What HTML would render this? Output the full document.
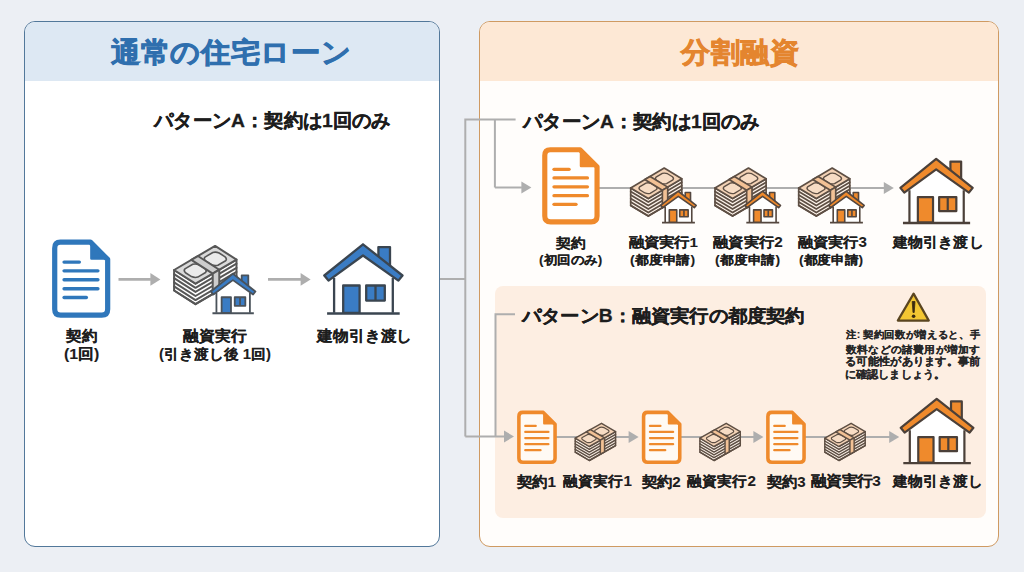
<!DOCTYPE html>
<html lang="ja"><head><meta charset="utf-8">
<style>
*{margin:0;padding:0;box-sizing:border-box;}
html,body{width:1024px;height:572px;overflow:hidden;}
body{background:#eceff4;font-family:"Liberation Sans",sans-serif;position:relative;}
.panel{position:absolute;border-radius:11px;overflow:hidden;}
.lp{left:24px;top:21px;width:416px;height:526px;border:1.7px solid #52789a;background:#ffffff;}
.lp .hd{position:absolute;left:0;top:0;right:0;height:59px;background:#dde8f3;}
.rp{left:479px;top:21px;width:520px;height:526px;border:1.8px solid #cf9a62;background:#fffdfb;}
.rp .hd{position:absolute;left:0;top:0;right:0;height:59px;background:#fde8d5;}
.pb{position:absolute;left:495px;top:286px;width:491px;height:231.5px;border-radius:8px;background:#fdeee2;}
svg{position:absolute;left:0;top:0;}
.t{position:absolute;white-space:nowrap;font-weight:bold;line-height:1;transform-origin:0 0;}
.note{position:absolute;left:846px;top:329px;font-size:11px;line-height:13.3px;font-weight:bold;color:#262626;white-space:nowrap;-webkit-text-stroke:0.3px #262626;}
</style></head><body>
<div class="panel lp"><div class="hd"></div></div>
<div class="panel rp"><div class="hd"></div></div>
<div class="pb"></div>
<svg width="1024" height="572" viewBox="0 0 1024 572">
<g stroke="#aeaeae" stroke-width="2" fill="none"><polyline points="440,279 465.3,279"/><polyline points="515.6,119.6 465.3,119.6 465.3,436.5"/><polyline points="494.9,119.6 494.9,187.5"/><polyline points="515,314.3 495.5,314.3 495.5,436.5"/></g>
<line x1="494.9" y1="187.5" x2="521.9" y2="187.5" stroke="#aeaeae" stroke-width="2"/><polygon points="521.4,181.5 531.4,187.5 521.4,193.5" fill="#aeaeae"/>
<line x1="465.3" y1="436.5" x2="504.5" y2="436.5" stroke="#aeaeae" stroke-width="2"/><polygon points="504,430.5 514,436.5 504,442.5" fill="#aeaeae"/>
<line x1="118.5" y1="279.4" x2="150.9" y2="279.4" stroke="#aeaeae" stroke-width="2.6"/><polygon points="150.4,273.09999999999997 160.4,279.4 150.4,285.7" fill="#aeaeae"/>
<line x1="268" y1="279.4" x2="301.1" y2="279.4" stroke="#aeaeae" stroke-width="2.6"/><polygon points="300.6,273.09999999999997 310.6,279.4 300.6,285.7" fill="#aeaeae"/>
<line x1="598" y1="188" x2="885" y2="188" stroke="#aeaeae" stroke-width="2"/>
<line x1="860" y1="188" x2="884.3" y2="188" stroke="#aeaeae" stroke-width="2"/><polygon points="883.8,182.0 893.8,188 883.8,194.0" fill="#aeaeae"/>
<line x1="556" y1="437" x2="630" y2="437" stroke="#aeaeae" stroke-width="2"/>
<line x1="600" y1="437" x2="629.1" y2="437" stroke="#aeaeae" stroke-width="2"/><polygon points="628.6,431.0 638.6,437 628.6,443.0" fill="#aeaeae"/>
<line x1="681" y1="437" x2="755" y2="437" stroke="#aeaeae" stroke-width="2"/>
<line x1="730" y1="437" x2="753.9" y2="437" stroke="#aeaeae" stroke-width="2"/><polygon points="753.4,431.0 763.4,437 753.4,443.0" fill="#aeaeae"/>
<line x1="805" y1="437" x2="890" y2="437" stroke="#aeaeae" stroke-width="2"/>
<line x1="860" y1="437" x2="889.7" y2="437" stroke="#aeaeae" stroke-width="2"/><polygon points="889.2,431.0 899.2,437 889.2,443.0" fill="#aeaeae"/>
<g transform="translate(51.8,239.3) scale(1.003)"><path d="M8.5,2.9 H38.5 L55.7,20.1 V69.8 Q55.7,75.7 49.8,75.7 H8.8 Q2.9,75.7 2.9,69.8 V8.8 Q2.9,2.9 8.5,2.9 Z" fill="#ffffff" stroke="#2f77bb" stroke-width="5.2" stroke-linejoin="round"/><path d="M39.5,4.5 V19.2 H54.2 Z" fill="#2f77bb" stroke="#2f77bb" stroke-width="2.5" stroke-linejoin="round"/><line x1="12.2" y1="22.7" x2="27.5" y2="22.7" stroke="#2f77bb" stroke-width="3.3" stroke-linecap="round"/><line x1="12.2" y1="31.4" x2="46" y2="31.4" stroke="#2f77bb" stroke-width="3.3" stroke-linecap="round"/><line x1="12.2" y1="40.3" x2="46" y2="40.3" stroke="#2f77bb" stroke-width="3.3" stroke-linecap="round"/><line x1="12.2" y1="49.3" x2="46" y2="49.3" stroke="#2f77bb" stroke-width="3.3" stroke-linecap="round"/><line x1="12.2" y1="58.0" x2="34.5" y2="58.0" stroke="#2f77bb" stroke-width="3.3" stroke-linecap="round"/></g>
<g stroke="#575757" stroke-width="2.0" stroke-linejoin="round" stroke-linecap="round"><polygon points="174.10,270.00 195.50,283.70 236.50,259.60 236.50,280.10 195.50,304.20 174.10,290.50" fill="#ffffff"/><polyline points="174.10,274.10 195.50,287.80 236.50,263.70" fill="none"/><polyline points="174.10,278.20 195.50,291.90 236.50,267.80" fill="none"/><polyline points="174.10,282.30 195.50,296.00 236.50,271.90" fill="none"/><polyline points="174.10,286.40 195.50,300.10 236.50,276.00" fill="none"/><polyline points="174.10,290.50 195.50,304.20 236.50,280.10" fill="none"/><polygon points="174.10,270.00 215.10,245.90 236.50,259.60 195.50,283.70" fill="#dadada"/><path d="M184.94,268.88 L192.73,264.31 Q195.71,263.39 199.02,264.81 L205.02,268.65 Q207.18,270.74 205.57,272.53 L197.78,277.10 Q194.80,278.02 191.49,276.60 L185.49,272.76 Q183.33,270.67 184.94,268.88 Z" fill="#ebebeb" stroke-width="1.6"/><path d="M205.03,257.08 L212.82,252.50 Q215.80,251.58 219.11,253.00 L225.11,256.84 Q227.27,258.93 225.66,260.72 L217.87,265.30 Q214.89,266.21 211.58,264.79 L205.58,260.95 Q203.42,258.86 205.03,257.08 Z" fill="#ebebeb" stroke-width="1.6"/><polygon points="191.32,259.88 197.88,256.02 219.28,269.72 212.72,273.58" fill="#cdcdcd"/><polygon points="212.72,273.58 219.28,269.72 219.28,290.22 212.72,294.08" fill="#cdcdcd"/></g>
<g transform="translate(208.4,271.3) scale(0.57)" stroke="#4a525a" stroke-width="3.16" stroke-linejoin="round"><rect x="58.4" y="7.1" width="11.6" height="20" fill="#3a7cc4"/><path d="M14.1,38 L43,15.5 L72.8,38 V72.8 H14.1 Z" fill="#ffffff" stroke="none"/><path d="M14.1,38 V72.8 M72.8,38 V72.8" fill="none"/><path d="M4.3,35.5 L43,4.3 L82.5,35.5 L78.4,40.6 L43,15.5 L8.5,40.6 Z" fill="#3a7cc4"/><line x1="7.1" y1="73.5" x2="79.7" y2="73.5" stroke-width="3.47"/><rect x="23.2" y="45.5" width="16.4" height="27.3" fill="#3a7cc4"/><rect x="46.2" y="45.5" width="18.6" height="15.1" fill="#3a7cc4"/><line x1="55.5" y1="45.5" x2="55.5" y2="60.6"/></g>
<g transform="translate(320,240) scale(1.0)" stroke="#3a4550" stroke-width="2.30" stroke-linejoin="round"><rect x="58.4" y="7.1" width="11.6" height="20" fill="#3a7cc4"/><path d="M14.1,38 L43,15.5 L72.8,38 V72.8 H14.1 Z" fill="#ffffff" stroke="none"/><path d="M14.1,38 V72.8 M72.8,38 V72.8" fill="none"/><path d="M4.3,35.5 L43,4.3 L82.5,35.5 L78.4,40.6 L43,15.5 L8.5,40.6 Z" fill="#3a7cc4"/><line x1="7.1" y1="73.5" x2="79.7" y2="73.5" stroke-width="2.53"/><rect x="23.2" y="45.5" width="16.4" height="27.3" fill="#3a7cc4"/><rect x="46.2" y="45.5" width="18.6" height="15.1" fill="#3a7cc4"/><line x1="55.5" y1="45.5" x2="55.5" y2="60.6"/></g>
<g transform="translate(541.9,146.9) scale(0.99)"><path d="M8.5,2.9 H38.5 L55.7,20.1 V69.8 Q55.7,75.7 49.8,75.7 H8.8 Q2.9,75.7 2.9,69.8 V8.8 Q2.9,2.9 8.5,2.9 Z" fill="#ffffff" stroke="#ef8a2c" stroke-width="5.2" stroke-linejoin="round"/><path d="M39.5,4.5 V19.2 H54.2 Z" fill="#ef8a2c" stroke="#ef8a2c" stroke-width="2.5" stroke-linejoin="round"/><line x1="12.2" y1="22.7" x2="27.5" y2="22.7" stroke="#ef8a2c" stroke-width="3.3" stroke-linecap="round"/><line x1="12.2" y1="31.4" x2="46" y2="31.4" stroke="#ef8a2c" stroke-width="3.3" stroke-linecap="round"/><line x1="12.2" y1="40.3" x2="46" y2="40.3" stroke="#ef8a2c" stroke-width="3.3" stroke-linecap="round"/><line x1="12.2" y1="49.3" x2="46" y2="49.3" stroke="#ef8a2c" stroke-width="3.3" stroke-linecap="round"/><line x1="12.2" y1="58.0" x2="34.5" y2="58.0" stroke="#ef8a2c" stroke-width="3.3" stroke-linecap="round"/></g>
<g stroke="#5e4f44" stroke-width="1.7" stroke-linejoin="round" stroke-linecap="round"><polygon points="630.70,187.90 648.30,198.60 681.80,178.80 681.80,196.30 648.30,216.10 630.70,205.40" fill="#fdf3ea"/><polyline points="630.70,191.40 648.30,202.10 681.80,182.30" fill="none"/><polyline points="630.70,194.90 648.30,205.60 681.80,185.80" fill="none"/><polyline points="630.70,198.40 648.30,209.10 681.80,189.30" fill="none"/><polyline points="630.70,201.90 648.30,212.60 681.80,192.80" fill="none"/><polyline points="630.70,205.40 648.30,216.10 681.80,196.30" fill="none"/><polygon points="630.70,187.90 664.20,168.10 681.80,178.80 648.30,198.60" fill="#f4d3b6"/><path d="M639.58,186.87 L645.95,183.11 Q648.38,182.34 651.11,183.44 L656.03,186.43 Q657.82,188.08 656.50,189.53 L650.14,193.29 Q647.70,194.06 644.98,192.97 L640.05,189.97 Q638.27,188.32 639.58,186.87 Z" fill="#f7dcc4" stroke-width="1.36"/><path d="M656.00,177.17 L662.36,173.41 Q664.80,172.64 667.52,173.73 L672.45,176.73 Q674.23,178.38 672.92,179.83 L666.55,183.59 Q664.12,184.36 661.39,183.26 L656.47,180.27 Q654.68,178.62 656.00,177.17 Z" fill="#f7dcc4" stroke-width="1.36"/><polygon points="644.77,179.58 650.13,176.42 667.73,187.12 662.37,190.28" fill="#f2c195"/><polygon points="662.37,190.28 667.73,187.12 667.73,204.62 662.37,207.78" fill="#f2c195"/></g>
<g transform="translate(658.8,189.3) scale(0.453)" stroke="#54473f" stroke-width="3.53" stroke-linejoin="round"><rect x="58.4" y="7.1" width="11.6" height="20" fill="#ef8a2c"/><path d="M14.1,38 L43,15.5 L72.8,38 V72.8 H14.1 Z" fill="#ffffff" stroke="none"/><path d="M14.1,38 V72.8 M72.8,38 V72.8" fill="none"/><path d="M4.3,35.5 L43,4.3 L82.5,35.5 L78.4,40.6 L43,15.5 L8.5,40.6 Z" fill="#ef8a2c"/><line x1="7.1" y1="73.5" x2="79.7" y2="73.5" stroke-width="3.89"/><rect x="23.2" y="45.5" width="16.4" height="27.3" fill="#ef8a2c"/><rect x="46.2" y="45.5" width="18.6" height="15.1" fill="#ef8a2c"/><line x1="55.5" y1="45.5" x2="55.5" y2="60.6"/></g>
<g stroke="#5e4f44" stroke-width="1.7" stroke-linejoin="round" stroke-linecap="round"><polygon points="715.00,187.90 732.60,198.60 766.10,178.80 766.10,196.30 732.60,216.10 715.00,205.40" fill="#fdf3ea"/><polyline points="715.00,191.40 732.60,202.10 766.10,182.30" fill="none"/><polyline points="715.00,194.90 732.60,205.60 766.10,185.80" fill="none"/><polyline points="715.00,198.40 732.60,209.10 766.10,189.30" fill="none"/><polyline points="715.00,201.90 732.60,212.60 766.10,192.80" fill="none"/><polyline points="715.00,205.40 732.60,216.10 766.10,196.30" fill="none"/><polygon points="715.00,187.90 748.50,168.10 766.10,178.80 732.60,198.60" fill="#f4d3b6"/><path d="M723.88,186.87 L730.25,183.11 Q732.68,182.34 735.41,183.44 L740.33,186.43 Q742.12,188.08 740.80,189.53 L734.44,193.29 Q732.00,194.06 729.28,192.97 L724.35,189.97 Q722.57,188.32 723.88,186.87 Z" fill="#f7dcc4" stroke-width="1.36"/><path d="M740.29,177.17 L746.66,173.41 Q749.10,172.64 751.82,173.73 L756.75,176.73 Q758.53,178.38 757.22,179.83 L750.85,183.59 Q748.42,184.36 745.69,183.26 L740.77,180.27 Q738.98,178.62 740.29,177.17 Z" fill="#f7dcc4" stroke-width="1.36"/><polygon points="729.07,179.58 734.43,176.42 752.03,187.12 746.67,190.28" fill="#f2c195"/><polygon points="746.67,190.28 752.03,187.12 752.03,204.62 746.67,207.78" fill="#f2c195"/></g>
<g transform="translate(743.0999999999999,189.3) scale(0.453)" stroke="#54473f" stroke-width="3.53" stroke-linejoin="round"><rect x="58.4" y="7.1" width="11.6" height="20" fill="#ef8a2c"/><path d="M14.1,38 L43,15.5 L72.8,38 V72.8 H14.1 Z" fill="#ffffff" stroke="none"/><path d="M14.1,38 V72.8 M72.8,38 V72.8" fill="none"/><path d="M4.3,35.5 L43,4.3 L82.5,35.5 L78.4,40.6 L43,15.5 L8.5,40.6 Z" fill="#ef8a2c"/><line x1="7.1" y1="73.5" x2="79.7" y2="73.5" stroke-width="3.89"/><rect x="23.2" y="45.5" width="16.4" height="27.3" fill="#ef8a2c"/><rect x="46.2" y="45.5" width="18.6" height="15.1" fill="#ef8a2c"/><line x1="55.5" y1="45.5" x2="55.5" y2="60.6"/></g>
<g stroke="#5e4f44" stroke-width="1.7" stroke-linejoin="round" stroke-linecap="round"><polygon points="798.70,187.90 816.30,198.60 849.80,178.80 849.80,196.30 816.30,216.10 798.70,205.40" fill="#fdf3ea"/><polyline points="798.70,191.40 816.30,202.10 849.80,182.30" fill="none"/><polyline points="798.70,194.90 816.30,205.60 849.80,185.80" fill="none"/><polyline points="798.70,198.40 816.30,209.10 849.80,189.30" fill="none"/><polyline points="798.70,201.90 816.30,212.60 849.80,192.80" fill="none"/><polyline points="798.70,205.40 816.30,216.10 849.80,196.30" fill="none"/><polygon points="798.70,187.90 832.20,168.10 849.80,178.80 816.30,198.60" fill="#f4d3b6"/><path d="M807.58,186.87 L813.95,183.11 Q816.38,182.34 819.11,183.44 L824.03,186.43 Q825.82,188.08 824.50,189.53 L818.14,193.29 Q815.70,194.06 812.98,192.97 L808.05,189.97 Q806.27,188.32 807.58,186.87 Z" fill="#f7dcc4" stroke-width="1.36"/><path d="M824.00,177.17 L830.36,173.41 Q832.80,172.64 835.52,173.73 L840.45,176.73 Q842.23,178.38 840.92,179.83 L834.55,183.59 Q832.12,184.36 829.39,183.26 L824.47,180.27 Q822.68,178.62 824.00,177.17 Z" fill="#f7dcc4" stroke-width="1.36"/><polygon points="812.77,179.58 818.13,176.42 835.73,187.12 830.37,190.28" fill="#f2c195"/><polygon points="830.37,190.28 835.73,187.12 835.73,204.62 830.37,207.78" fill="#f2c195"/></g>
<g transform="translate(826.8,189.3) scale(0.453)" stroke="#54473f" stroke-width="3.53" stroke-linejoin="round"><rect x="58.4" y="7.1" width="11.6" height="20" fill="#ef8a2c"/><path d="M14.1,38 L43,15.5 L72.8,38 V72.8 H14.1 Z" fill="#ffffff" stroke="none"/><path d="M14.1,38 V72.8 M72.8,38 V72.8" fill="none"/><path d="M4.3,35.5 L43,4.3 L82.5,35.5 L78.4,40.6 L43,15.5 L8.5,40.6 Z" fill="#ef8a2c"/><line x1="7.1" y1="73.5" x2="79.7" y2="73.5" stroke-width="3.89"/><rect x="23.2" y="45.5" width="16.4" height="27.3" fill="#ef8a2c"/><rect x="46.2" y="45.5" width="18.6" height="15.1" fill="#ef8a2c"/><line x1="55.5" y1="45.5" x2="55.5" y2="60.6"/></g>
<g transform="translate(896.4,155.0) scale(0.925)" stroke="#4b4039" stroke-width="2.38" stroke-linejoin="round"><rect x="58.4" y="7.1" width="11.6" height="20" fill="#ef8a2c"/><path d="M14.1,38 L43,15.5 L72.8,38 V72.8 H14.1 Z" fill="#ffffff" stroke="none"/><path d="M14.1,38 V72.8 M72.8,38 V72.8" fill="none"/><path d="M4.3,35.5 L43,4.3 L82.5,35.5 L78.4,40.6 L43,15.5 L8.5,40.6 Z" fill="#ef8a2c"/><line x1="7.1" y1="73.5" x2="79.7" y2="73.5" stroke-width="2.62"/><rect x="23.2" y="45.5" width="16.4" height="27.3" fill="#ef8a2c"/><rect x="46.2" y="45.5" width="18.6" height="15.1" fill="#ef8a2c"/><line x1="55.5" y1="45.5" x2="55.5" y2="60.6"/></g>
<g transform="translate(516.9,410.4) scale(0.685)"><path d="M8.5,2.9 H38.5 L55.7,20.1 V69.8 Q55.7,75.7 49.8,75.7 H8.8 Q2.9,75.7 2.9,69.8 V8.8 Q2.9,2.9 8.5,2.9 Z" fill="#fffaf4" stroke="#ef8a2c" stroke-width="5.2" stroke-linejoin="round"/><path d="M39.5,4.5 V19.2 H54.2 Z" fill="#ef8a2c" stroke="#ef8a2c" stroke-width="2.5" stroke-linejoin="round"/><line x1="12.2" y1="22.7" x2="27.5" y2="22.7" stroke="#ef8a2c" stroke-width="3.3" stroke-linecap="round"/><line x1="12.2" y1="31.4" x2="46" y2="31.4" stroke="#ef8a2c" stroke-width="3.3" stroke-linecap="round"/><line x1="12.2" y1="40.3" x2="46" y2="40.3" stroke="#ef8a2c" stroke-width="3.3" stroke-linecap="round"/><line x1="12.2" y1="49.3" x2="46" y2="49.3" stroke="#ef8a2c" stroke-width="3.3" stroke-linecap="round"/><line x1="12.2" y1="58.0" x2="34.5" y2="58.0" stroke="#ef8a2c" stroke-width="3.3" stroke-linecap="round"/></g>
<g transform="translate(641.6,410.4) scale(0.685)"><path d="M8.5,2.9 H38.5 L55.7,20.1 V69.8 Q55.7,75.7 49.8,75.7 H8.8 Q2.9,75.7 2.9,69.8 V8.8 Q2.9,2.9 8.5,2.9 Z" fill="#fffaf4" stroke="#ef8a2c" stroke-width="5.2" stroke-linejoin="round"/><path d="M39.5,4.5 V19.2 H54.2 Z" fill="#ef8a2c" stroke="#ef8a2c" stroke-width="2.5" stroke-linejoin="round"/><line x1="12.2" y1="22.7" x2="27.5" y2="22.7" stroke="#ef8a2c" stroke-width="3.3" stroke-linecap="round"/><line x1="12.2" y1="31.4" x2="46" y2="31.4" stroke="#ef8a2c" stroke-width="3.3" stroke-linecap="round"/><line x1="12.2" y1="40.3" x2="46" y2="40.3" stroke="#ef8a2c" stroke-width="3.3" stroke-linecap="round"/><line x1="12.2" y1="49.3" x2="46" y2="49.3" stroke="#ef8a2c" stroke-width="3.3" stroke-linecap="round"/><line x1="12.2" y1="58.0" x2="34.5" y2="58.0" stroke="#ef8a2c" stroke-width="3.3" stroke-linecap="round"/></g>
<g transform="translate(765.9,410.4) scale(0.685)"><path d="M8.5,2.9 H38.5 L55.7,20.1 V69.8 Q55.7,75.7 49.8,75.7 H8.8 Q2.9,75.7 2.9,69.8 V8.8 Q2.9,2.9 8.5,2.9 Z" fill="#fffaf4" stroke="#ef8a2c" stroke-width="5.2" stroke-linejoin="round"/><path d="M39.5,4.5 V19.2 H54.2 Z" fill="#ef8a2c" stroke="#ef8a2c" stroke-width="2.5" stroke-linejoin="round"/><line x1="12.2" y1="22.7" x2="27.5" y2="22.7" stroke="#ef8a2c" stroke-width="3.3" stroke-linecap="round"/><line x1="12.2" y1="31.4" x2="46" y2="31.4" stroke="#ef8a2c" stroke-width="3.3" stroke-linecap="round"/><line x1="12.2" y1="40.3" x2="46" y2="40.3" stroke="#ef8a2c" stroke-width="3.3" stroke-linecap="round"/><line x1="12.2" y1="49.3" x2="46" y2="49.3" stroke="#ef8a2c" stroke-width="3.3" stroke-linecap="round"/><line x1="12.2" y1="58.0" x2="34.5" y2="58.0" stroke="#ef8a2c" stroke-width="3.3" stroke-linecap="round"/></g>
<g stroke="#5e4f44" stroke-width="1.45" stroke-linejoin="round" stroke-linecap="round"><polygon points="575.20,438.20 589.30,446.50 615.60,431.60 615.60,445.60 589.30,460.50 575.20,452.20" fill="#fdf3ea"/><polyline points="575.20,441.00 589.30,449.30 615.60,434.40" fill="none"/><polyline points="575.20,443.80 589.30,452.10 615.60,437.20" fill="none"/><polyline points="575.20,446.60 589.30,454.90 615.60,440.00" fill="none"/><polyline points="575.20,449.40 589.30,457.70 615.60,442.80" fill="none"/><polyline points="575.20,452.20 589.30,460.50 615.60,445.60" fill="none"/><polygon points="575.20,438.20 601.50,423.30 615.60,431.60 589.30,446.50" fill="#f4d3b6"/><path d="M582.23,437.48 L587.23,434.64 Q589.15,434.08 591.32,434.93 L595.27,437.25 Q596.71,438.52 595.69,439.62 L590.69,442.46 Q588.76,443.02 586.59,442.17 L582.64,439.85 Q581.21,438.58 582.23,437.48 Z" fill="#f7dcc4" stroke-width="1.16"/><path d="M595.12,430.17 L600.11,427.34 Q602.04,426.78 604.21,427.63 L608.16,429.95 Q609.59,431.22 608.57,432.32 L603.58,435.15 Q601.65,435.72 599.48,434.87 L595.53,432.55 Q594.09,431.27 595.12,430.17 Z" fill="#f7dcc4" stroke-width="1.16"/><polygon points="586.25,431.94 590.45,429.56 604.55,437.86 600.35,440.24" fill="#f2c195"/><polygon points="600.35,440.24 604.55,437.86 604.55,451.86 600.35,454.24" fill="#f2c195"/></g>
<g stroke="#5e4f44" stroke-width="1.45" stroke-linejoin="round" stroke-linecap="round"><polygon points="699.90,438.20 714.00,446.50 740.30,431.60 740.30,445.60 714.00,460.50 699.90,452.20" fill="#fdf3ea"/><polyline points="699.90,441.00 714.00,449.30 740.30,434.40" fill="none"/><polyline points="699.90,443.80 714.00,452.10 740.30,437.20" fill="none"/><polyline points="699.90,446.60 714.00,454.90 740.30,440.00" fill="none"/><polyline points="699.90,449.40 714.00,457.70 740.30,442.80" fill="none"/><polyline points="699.90,452.20 714.00,460.50 740.30,445.60" fill="none"/><polygon points="699.90,438.20 726.20,423.30 740.30,431.60 714.00,446.50" fill="#f4d3b6"/><path d="M706.93,437.48 L711.93,434.64 Q713.85,434.08 716.02,434.93 L719.97,437.25 Q721.41,438.52 720.39,439.62 L715.39,442.46 Q713.46,443.02 711.29,442.17 L707.34,439.85 Q705.91,438.58 706.93,437.48 Z" fill="#f7dcc4" stroke-width="1.16"/><path d="M719.82,430.17 L724.81,427.34 Q726.74,426.78 728.91,427.63 L732.86,429.95 Q734.29,431.22 733.27,432.32 L728.28,435.15 Q726.35,435.72 724.18,434.87 L720.23,432.55 Q718.79,431.27 719.82,430.17 Z" fill="#f7dcc4" stroke-width="1.16"/><polygon points="710.95,431.94 715.15,429.56 729.25,437.86 725.05,440.24" fill="#f2c195"/><polygon points="725.05,440.24 729.25,437.86 729.25,451.86 725.05,454.24" fill="#f2c195"/></g>
<g stroke="#5e4f44" stroke-width="1.45" stroke-linejoin="round" stroke-linecap="round"><polygon points="824.80,438.20 838.90,446.50 865.20,431.60 865.20,445.60 838.90,460.50 824.80,452.20" fill="#fdf3ea"/><polyline points="824.80,441.00 838.90,449.30 865.20,434.40" fill="none"/><polyline points="824.80,443.80 838.90,452.10 865.20,437.20" fill="none"/><polyline points="824.80,446.60 838.90,454.90 865.20,440.00" fill="none"/><polyline points="824.80,449.40 838.90,457.70 865.20,442.80" fill="none"/><polyline points="824.80,452.20 838.90,460.50 865.20,445.60" fill="none"/><polygon points="824.80,438.20 851.10,423.30 865.20,431.60 838.90,446.50" fill="#f4d3b6"/><path d="M831.83,437.48 L836.83,434.64 Q838.75,434.08 840.92,434.93 L844.87,437.25 Q846.31,438.52 845.29,439.62 L840.29,442.46 Q838.36,443.02 836.19,442.17 L832.24,439.85 Q830.81,438.58 831.83,437.48 Z" fill="#f7dcc4" stroke-width="1.16"/><path d="M844.71,430.17 L849.71,427.34 Q851.64,426.78 853.81,427.63 L857.76,429.95 Q859.19,431.22 858.17,432.32 L853.17,435.15 Q851.25,435.72 849.08,434.87 L845.13,432.55 Q843.69,431.27 844.71,430.17 Z" fill="#f7dcc4" stroke-width="1.16"/><polygon points="835.85,431.94 840.05,429.56 854.15,437.86 849.95,440.24" fill="#f2c195"/><polygon points="849.95,440.24 854.15,437.86 854.15,451.86 849.95,454.24" fill="#f2c195"/></g>
<g transform="translate(896.7,394.8) scale(0.93)" stroke="#4b4039" stroke-width="2.37" stroke-linejoin="round"><rect x="58.4" y="7.1" width="11.6" height="20" fill="#ef8a2c"/><path d="M14.1,38 L43,15.5 L72.8,38 V72.8 H14.1 Z" fill="#ffffff" stroke="none"/><path d="M14.1,38 V72.8 M72.8,38 V72.8" fill="none"/><path d="M4.3,35.5 L43,4.3 L82.5,35.5 L78.4,40.6 L43,15.5 L8.5,40.6 Z" fill="#ef8a2c"/><line x1="7.1" y1="73.5" x2="79.7" y2="73.5" stroke-width="2.60"/><rect x="23.2" y="45.5" width="16.4" height="27.3" fill="#ef8a2c"/><rect x="46.2" y="45.5" width="18.6" height="15.1" fill="#ef8a2c"/><line x1="55.5" y1="45.5" x2="55.5" y2="60.6"/></g>
<path d="M913.6,293.6 L928.8,320.6 H897.8 Z" fill="#f3c632" stroke="#5a4520" stroke-width="2.2" stroke-linejoin="round"/><path d="M912.2,301.5 L915,301.5 L914.2,312.5 L913,312.5 Z" fill="#3a2a10" stroke="#3a2a10" stroke-width="0.8" stroke-linejoin="round"/><circle cx="913.6" cy="316.2" r="1.8" fill="#3a2a10"/>
</svg>
<div class="t" style="left:111.40px;top:37.85px;font-size:30px;color:#2f6fae;-webkit-text-stroke:0.85px #2f6fae;transform:scale(0.9900,0.9450)">通常の住宅ローン</div>
<div class="t" style="left:680.59px;top:37.84px;font-size:30px;color:#e4852f;-webkit-text-stroke:0.85px #e4852f;transform:scale(0.9850,0.9472)">分割融資</div>
<div class="t" style="left:153.71px;top:111.23px;font-size:19px;color:#1d1d1d;-webkit-text-stroke:0.3px #1d1d1d;transform:scale(1.0141,0.9965)">パターンA：契約は1回のみ</div>
<div class="t" style="left:522.91px;top:111.69px;font-size:19px;color:#1d1d1d;-webkit-text-stroke:0.3px #1d1d1d;transform:scale(1.0132,0.9908)">パターンA：契約は1回のみ</div>
<div class="t" style="left:522.31px;top:306.51px;font-size:19px;color:#1d1d1d;-webkit-text-stroke:0.3px #1d1d1d;transform:scale(1.0104,0.9409)">パターンB：融資実行の都度契約</div>
<div class="t" style="left:66.00px;top:328.62px;font-size:16px;color:#1d1d1d;-webkit-text-stroke:0.15px #1d1d1d;transform:scale(0.9774,0.9505)">契約</div>
<div class="t" style="left:63.74px;top:345.76px;font-size:15px;color:#1d1d1d;-webkit-text-stroke:0.1px #1d1d1d;transform:scale(1.0594,1.0164)">(1回)</div>
<div class="t" style="left:182.80px;top:328.81px;font-size:16px;color:#1d1d1d;-webkit-text-stroke:0.15px #1d1d1d;transform:scale(0.9953,0.9447)">融資実行</div>
<div class="t" style="left:158.50px;top:346.97px;font-size:15px;color:#1d1d1d;-webkit-text-stroke:0.1px #1d1d1d;transform:scale(0.9955,0.9540)">(引き渡し後 1回)</div>
<div class="t" style="left:316.69px;top:328.71px;font-size:16px;color:#1d1d1d;-webkit-text-stroke:0.15px #1d1d1d;transform:scale(0.9926,0.9522)">建物引き渡し</div>
<div class="t" style="left:555.80px;top:235.85px;font-size:15px;color:#1d1d1d;-webkit-text-stroke:0.1px #1d1d1d;transform:scale(0.9667,0.9200)">契約</div>
<div class="t" style="left:538.96px;top:253.80px;font-size:13px;color:#1d1d1d;-webkit-text-stroke:0.12px #1d1d1d;transform:scale(1.0424,0.9283)">(初回のみ)</div>
<div class="t" style="left:628.80px;top:235.45px;font-size:15px;color:#1d1d1d;-webkit-text-stroke:0.1px #1d1d1d;transform:scale(1.0074,0.9131)">融資実行1</div>
<div class="t" style="left:630.33px;top:253.69px;font-size:13px;color:#1d1d1d;-webkit-text-stroke:0.12px #1d1d1d;transform:scale(1.0729,0.9441)">(都度申請)</div>
<div class="t" style="left:713.20px;top:235.09px;font-size:15px;color:#1d1d1d;-webkit-text-stroke:0.1px #1d1d1d;transform:scale(1.0206,0.9322)">融資実行2</div>
<div class="t" style="left:714.73px;top:253.69px;font-size:13px;color:#1d1d1d;-webkit-text-stroke:0.12px #1d1d1d;transform:scale(1.0729,0.9441)">(都度申請)</div>
<div class="t" style="left:797.60px;top:235.15px;font-size:15px;color:#1d1d1d;-webkit-text-stroke:0.1px #1d1d1d;transform:scale(1.0074,0.9256)">融資実行3</div>
<div class="t" style="left:799.14px;top:253.75px;font-size:13px;color:#1d1d1d;-webkit-text-stroke:0.12px #1d1d1d;transform:scale(1.0576,0.9360)">(都度申請)</div>
<div class="t" style="left:892.61px;top:234.82px;font-size:15px;color:#1d1d1d;-webkit-text-stroke:0.1px #1d1d1d;transform:scale(1.0067,0.9471)">建物引き渡し</div>
<div class="t" style="left:517.00px;top:473.73px;font-size:15px;color:#1d1d1d;-webkit-text-stroke:0.1px #1d1d1d;transform:scale(1.0184,0.9959)">契約1</div>
<div class="t" style="left:563.30px;top:473.51px;font-size:15px;color:#1d1d1d;-webkit-text-stroke:0.1px #1d1d1d;transform:scale(1.0088,0.9607)">融資実行1</div>
<div class="t" style="left:641.90px;top:473.76px;font-size:15px;color:#1d1d1d;-webkit-text-stroke:0.1px #1d1d1d;transform:scale(1.0105,0.9919)">契約2</div>
<div class="t" style="left:686.80px;top:473.51px;font-size:15px;color:#1d1d1d;-webkit-text-stroke:0.1px #1d1d1d;transform:scale(1.0103,0.9614)">融資実行2</div>
<div class="t" style="left:766.80px;top:473.78px;font-size:15px;color:#1d1d1d;-webkit-text-stroke:0.1px #1d1d1d;transform:scale(1.0053,0.9893)">契約3</div>
<div class="t" style="left:810.80px;top:473.47px;font-size:15px;color:#1d1d1d;-webkit-text-stroke:0.1px #1d1d1d;transform:scale(1.0206,0.9665)">融資実行3</div>
<div class="t" style="left:893.00px;top:473.54px;font-size:15px;color:#1d1d1d;-webkit-text-stroke:0.1px #1d1d1d;transform:scale(1.0034,0.9579)">建物引き渡し</div>
<div class="t" style="left:846.20px;top:329.66px;font-size:11px;color:#262626;-webkit-text-stroke:0.12px #262626;transform:scale(0.9691,0.9387)">注: 契約回数が増えると、手</div>
<div class="t" style="left:846.20px;top:343.55px;font-size:11px;color:#262626;-webkit-text-stroke:0.12px #262626;transform:scale(1.0182,0.9508)">数料などの諸費用が増加す</div>
<div class="t" style="left:845.17px;top:355.97px;font-size:11px;color:#262626;-webkit-text-stroke:0.12px #262626;transform:scale(1.0282,1.0050)">る可能性があります。事前</div>
<div class="t" style="left:845.19px;top:369.22px;font-size:11px;color:#262626;-webkit-text-stroke:0.12px #262626;transform:scale(1.0099,0.9959)">に確認しましょう。</div>
</body></html>
